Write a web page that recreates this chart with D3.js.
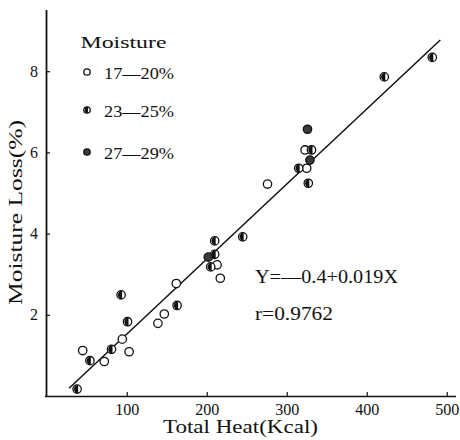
<!DOCTYPE html>
<html><head><meta charset="utf-8">
<script src="https://cdn.jsdelivr.net/npm/d3@7"></script>
<style>body{margin:0;background:#fff}svg{display:block}text{font-family:"Liberation Serif","DejaVu Serif",serif !important;fill:#111}</style>
</head><body><svg id="c" width="460" height="440"></svg>
<script>
// data: [Total Heat (Kcal), Moisture Loss (%)]
const groups = ["17—20%", "23—25%", "27—29%"];
const heatLow = [45, 72, 94.5, 103, 139, 147, 162, 213, 217, 276, 323, 325];
const lossLow = [1.12, 0.85, 1.40, 1.09, 1.79, 2.02, 2.77, 3.23, 2.90, 5.22, 6.06, 5.61];
const heatMid = [38, 54, 81, 93, 101, 163, 205, 210, 210, 245, 315, 331, 327, 422, 482];
const lossMid = [0.17, 0.87, 1.15, 2.49, 1.83, 2.23, 3.18, 3.49, 3.82, 3.92, 5.61, 6.06, 5.24, 7.86, 8.34];
const heatHigh = [202, 329, 326];
const lossHigh = [3.42, 5.81, 6.57];
const xTicks = [100, 200, 300, 400, 500];
const yTicks = [2, 4, 6, 8];
const fitA = -0.4, fitB = 0.019, fitR = 0.9762;
// drawn regression line endpoints
const fitLineX = [28, 492];
const fitLineY = [0.19, 8.77];

const svg = d3.select("#c");
const x = d3.scaleLinear().domain([0, 500]).range([46.7, 446.7]);
const y = d3.scaleLinear().domain([0, 8]).range([396, 71.2]);

// axes
const xAxis = d3.axisBottom(x).tickValues(xTicks).tickSize(-4).tickPadding(8).tickSizeOuter(0);
const gx = svg.append("g").attr("transform", "translate(0,396)").call(xAxis)
  .attr("font-family", "Liberation Serif").attr("font-size", 16);
gx.select(".domain").attr("d", "M45,0.5H456").attr("stroke", "#111").attr("stroke-width", 1.6);
gx.selectAll(".tick line").attr("stroke", "#111").attr("stroke-width", 1.2);
gx.selectAll(".tick text").attr("fill", "#111");

const yAxis = d3.axisLeft(y).tickValues(yTicks).tickSize(-4).tickPadding(8).tickSizeOuter(0);
const gy = svg.append("g").attr("transform", "translate(46,0)").call(yAxis)
  .attr("font-family", "Liberation Serif").attr("font-size", 16);
gy.select(".domain").attr("d", "M0.5,397V10").attr("stroke", "#111").attr("stroke-width", 1.8);
gy.selectAll(".tick line").attr("stroke", "#111").attr("stroke-width", 1.2);
gy.selectAll(".tick text").attr("fill", "#111");

// fit line
svg.append("line")
  .attr("x1", x(fitLineX[0])).attr("y1", y(fitLineY[0]))
  .attr("x2", x(fitLineX[1])).attr("y2", y(fitLineY[1]))
  .attr("stroke", "#111").attr("stroke-width", 1.5);

// markers
function drawMarker(g, cx, cy, type, r) {
  if (type === 0) {
    g.append("circle").attr("cx", cx).attr("cy", cy).attr("r", r)
      .attr("fill", "#fff").attr("stroke", "#111").attr("stroke-width", 1.3);
  } else if (type === 1) {
    g.append("circle").attr("cx", cx).attr("cy", cy).attr("r", r)
      .attr("fill", "#fff").attr("stroke", "#111").attr("stroke-width", 1.3);
    g.append("path")
      .attr("d", `M${cx + 1},${cy - r}A${r},${r} 0 0 0 ${cx + 1},${cy + r}Z`)
      .attr("fill", "#111");
  } else {
    g.append("circle").attr("cx", cx).attr("cy", cy).attr("r", r)
      .attr("fill", "#3a3a3a").attr("stroke", "#111").attr("stroke-width", 1.3);
  }
}
const pts = svg.append("g");
heatLow.forEach((h, i) => drawMarker(pts, x(h), y(lossLow[i]), 0, 4.2));
heatMid.forEach((h, i) => drawMarker(pts, x(h), y(lossMid[i]), 1, 4.2));
heatHigh.forEach((h, i) => drawMarker(pts, x(h), y(lossHigh[i]), 2, 4.2));

// legend
svg.append("text").attr("x", 80.5).attr("y", 48).attr("font-size", 17)
  .attr("textLength", 86).attr("lengthAdjust", "spacingAndGlyphs").text("Moisture");
const legY = [72, 110, 152];
groups.forEach((g, i) => {
  drawMarker(svg, 87, legY[i], i, 3.2);
  svg.append("text").attr("x", 104).attr("y", legY[i] + 6.5).attr("font-size", 17)
    .attr("textLength", 70).attr("lengthAdjust", "spacingAndGlyphs").text(g);
});

// equation
svg.append("text").attr("x", 255).attr("y", 283).attr("font-size", 18)
  .attr("textLength", 143).attr("lengthAdjust", "spacingAndGlyphs")
  .text(`Y=—${Math.abs(fitA)}+${fitB}X`);
svg.append("text").attr("x", 255).attr("y", 320).attr("font-size", 18)
  .attr("textLength", 78).attr("lengthAdjust", "spacingAndGlyphs")
  .text(`r=${fitR}`);

// axis titles
svg.append("text").attr("x", 163).attr("y", 433).attr("font-size", 18)
  .attr("textLength", 155).attr("lengthAdjust", "spacingAndGlyphs").text("Total Heat(Kcal)");
svg.append("text").attr("transform", "translate(22,305) rotate(-90)").attr("font-size", 18)
  .attr("textLength", 185).attr("lengthAdjust", "spacingAndGlyphs").text("Moisture Loss(%)");
</script></body></html>
